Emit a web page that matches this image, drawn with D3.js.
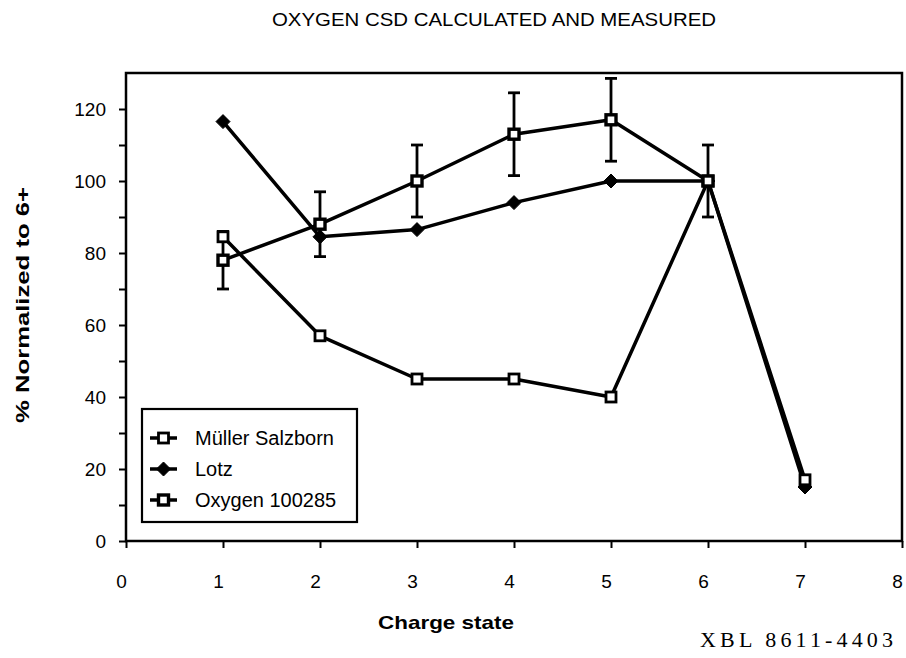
<!DOCTYPE html>
<meta charset="utf-8">
<title>Oxygen CSD calculated and measured</title>
<script src="https://d3js.org/d3.v7.min.js"></script>
<style>
  body { margin: 0; background: #fff; }
  text { font-family: "Liberation Sans", Arial, sans-serif; fill: #000; }
</style>
<body>
<svg width="906" height="658"></svg>
<script>
  // values
  var charge = [1, 2, 3, 4, 5, 6, 7];
  var muller = [84.5, 57, 45, 45, 40, 100, 17];
  var lotz = [116.5, 84.5, 86.5, 94, 100, 100, 15];
  var oxyCharge = [1, 2, 3, 4, 5, 6];
  var oxygen = [78, 88, 100, 113, 117, 100];
  var oxyErr = [8, 9, 10, 11.5, 11.5, 10];
  var xTicks = [0, 1, 2, 3, 4, 5, 6, 7, 8];
  var yTicks = [0, 20, 40, 60, 80, 100, 120];
  var legendNames = ["Müller Salzborn", "Lotz", "Oxygen 100285"];

  var svg = d3.select("svg");

  var x = d3.scaleLinear().domain([0, 8]).range([126, 902]);
  var y = d3.scaleLinear().domain([0, 130]).range([541, 73]);

  // frame
  svg.append("rect")
    .attr("x", x(0)).attr("y", y(130))
    .attr("width", x(8) - x(0)).attr("height", y(0) - y(130))
    .attr("fill", "none").attr("stroke", "#000").attr("stroke-width", 2.5);

  // axes
  var xAxis = svg.append("g")
    .attr("transform", "translate(0," + y(0) + ")")
    .call(d3.axisBottom(x).tickValues(xTicks).tickSize(7).tickPadding(27).tickFormat(d3.format("d")));
  var yAxis = svg.append("g")
    .attr("transform", "translate(" + x(0) + ",0)")
    .call(d3.axisLeft(y).tickValues(d3.range(0, 130, 10)).tickSize(7).tickPadding(13)
      .tickFormat(function (d) { return yTicks.indexOf(d) >= 0 ? d : ""; }));

  [xAxis, yAxis].forEach(function (g) {
    g.select(".domain").remove();
    g.selectAll("line").attr("stroke", "#000").attr("stroke-width", 2);
    g.selectAll("text").attr("font-size", 19).attr("font-family", "Liberation Sans, Arial, sans-serif");
  });
  // labels in the scan sit a little left of their ticks
  xAxis.selectAll("text").attr("dx", -5);

  var line = d3.line()
    .x(function (d) { return x(d[0]); })
    .y(function (d) { return y(d[1]); });

  function lineStroke(sel) {
    return sel.attr("fill", "none").attr("stroke", "#000")
      .attr("stroke-width", 3.5).attr("stroke-linejoin", "round");
  }

  var mullerPts = d3.zip(charge, muller);
  var lotzPts = d3.zip(charge, lotz);
  var oxyPts = d3.zip(oxyCharge, oxygen);

  // error bars for the measured data
  var err = svg.append("g").selectAll("g")
    .data(d3.zip(oxyCharge, oxygen, oxyErr))
    .enter().append("g")
    .attr("stroke", "#000").attr("stroke-width", 2.8);
  err.append("line")
    .attr("x1", function (d) { return x(d[0]); })
    .attr("x2", function (d) { return x(d[0]); })
    .attr("y1", function (d) { return y(d[1] - d[2]); })
    .attr("y2", function (d) { return y(d[1] + d[2]); });
  err.selectAll(".cap")
    .data(function (d) { return [[d[0], d[1] - d[2]], [d[0], d[1] + d[2]]]; })
    .enter().append("line")
    .attr("x1", function (d) { return x(d[0]) - 6; })
    .attr("x2", function (d) { return x(d[0]) + 6; })
    .attr("y1", function (d) { return y(d[1]); })
    .attr("y2", function (d) { return y(d[1]); });

  svg.append("path").datum(mullerPts).attr("d", line).call(lineStroke);
  svg.append("path").datum(lotzPts).attr("d", line).call(lineStroke);
  svg.append("path").datum(oxyPts).attr("d", line).call(lineStroke);

  function openSquare(g, cx, cy, sw) {
    g.append("rect")
      .attr("x", cx - 5).attr("y", cy - 5)
      .attr("width", 10).attr("height", 10)
      .attr("fill", "#fff").attr("stroke", "#000").attr("stroke-width", sw);
  }
  function diamond(g, cx, cy) {
    g.append("path")
      .attr("d", "M" + cx + "," + (cy - 7) + "L" + (cx + 7) + "," + cy + "L" + cx + "," + (cy + 7) + "L" + (cx - 7) + "," + cy + "Z")
      .attr("fill", "#000").attr("stroke", "#000").attr("stroke-width", 1)
      .attr("stroke-linejoin", "round");
  }

  var marks = svg.append("g");
  lotzPts.forEach(function (d) { diamond(marks, x(d[0]), y(d[1])); });
  mullerPts.forEach(function (d) { openSquare(marks, x(d[0]), y(d[1]), 2.8); });
  oxyPts.forEach(function (d) { openSquare(marks, x(d[0]), y(d[1]), 3.4); });

  // legend
  var leg = svg.append("g");
  leg.append("rect")
    .attr("x", 142).attr("y", 409).attr("width", 215).attr("height", 113)
    .attr("fill", "#fff").attr("stroke", "#000").attr("stroke-width", 2.2);
  legendNames.forEach(function (name, i) {
    var ly = 438 + i * 31;
    leg.append("line").attr("x1", 150).attr("x2", 177).attr("y1", ly).attr("y2", ly)
      .attr("stroke", "#000").attr("stroke-width", 3.5);
    if (i === 1) diamond(leg, 163.5, ly);
    else openSquare(leg, 163.5, ly, i === 0 ? 2.8 : 3.4);
    leg.append("text").attr("x", 195).attr("y", ly + 7)
      .attr("font-size", 20).text(name);
  });

  // titles
  svg.append("text").attr("x", 494).attr("y", 26).attr("text-anchor", "middle")
    .attr("font-size", 18).attr("textLength", 444).attr("lengthAdjust", "spacingAndGlyphs")
    .text("OXYGEN CSD CALCULATED AND MEASURED");
  svg.append("text").attr("x", 446).attr("y", 629).attr("text-anchor", "middle")
    .attr("font-size", 19).attr("font-weight", "bold")
    .attr("textLength", 136).attr("lengthAdjust", "spacingAndGlyphs")
    .text("Charge state");
  svg.append("text")
    .attr("transform", "translate(29,305) rotate(-90)")
    .attr("text-anchor", "middle").attr("font-size", 19).attr("font-weight", "bold")
    .attr("textLength", 236).attr("lengthAdjust", "spacingAndGlyphs")
    .text("% Normalized to 6+");
  svg.append("text").attr("x", 700).attr("y", 647)
    .attr("font-size", 22)
    .attr("textLength", 193).attr("lengthAdjust", "spacing")
    .style("font-family", "'Liberation Serif', serif")
    .text("XBL 8611-4403");
</script>
</body>
